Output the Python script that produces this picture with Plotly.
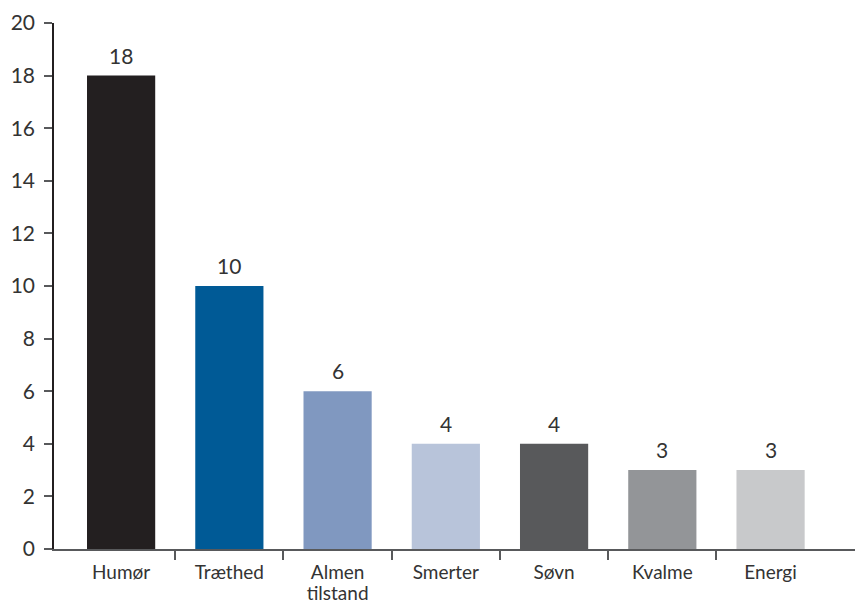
import plotly.graph_objects as go

categories = ["Humør", "Træthed", "Almen", "Smerter", "Søvn", "Kvalme", "Energi"]
second_line = ["", "", "tilstand", "", "", "", ""]
values = [18, 10, 6, 4, 4, 3, 3]
colors = ["#231f20", "#005a96", "#8098c0", "#b8c4da", "#58595b", "#939598", "#c8c9cb"]
y_ticks = list(range(0, 21, 2))

xpos = list(range(len(categories)))
xr = [-0.62, 6.78]
txt = "#333333"
fam = "Lato, Open Sans, sans-serif"
font = dict(family=fam, size=21, color=txt)

fig = go.Figure()
fig.add_trace(go.Bar(
    x=xpos, y=values, marker=dict(color=colors, line=dict(width=0)),
    width=0.63, hoverinfo="skip",
))
for x, v in zip(xpos, values):
    fig.add_annotation(x=x, y=v, text=str(v), showarrow=False, yanchor="bottom",
                       yshift=6, font=dict(family=fam, size=21, color=txt))
for ax in ("x2", "x3"):
    fig.add_trace(go.Scatter(x=xpos, y=[0]*len(xpos), xaxis=ax, mode="markers",
                             marker=dict(opacity=0), hoverinfo="skip", showlegend=False))

label_axis = dict(range=xr, overlaying="x", side="bottom", ticks="", showline=False,
                  showgrid=False, zeroline=False, automargin=False,
                  tickfont=dict(family=fam, size=19, color=txt))
sec_idx = [i for i, s in enumerate(second_line) if s]

fig.update_layout(
    width=855, height=605, margin=dict(l=54, r=0, t=23, b=56),
    plot_bgcolor="white", paper_bgcolor="white", showlegend=False,
    font=font,
    xaxis=dict(range=xr, tickvals=[i + 0.5 for i in range(len(categories) - 1)],
               ticktext=[""] * (len(categories) - 1), ticks="outside", ticklen=9,
               tickwidth=1.5, tickcolor="#58595b", showline=True, linecolor="#58595b",
               linewidth=1.5, showgrid=False, zeroline=False, automargin=False),
    xaxis2=dict(label_axis, tickvals=xpos, ticktext=categories, ticklabelstandoff=10),
    xaxis3=dict(label_axis, tickvals=[xpos[i] for i in sec_idx],
                ticktext=[second_line[i] for i in sec_idx], ticklabelstandoff=31),
    yaxis=dict(range=[0, 20], tickvals=y_ticks, ticks="outside", ticklen=8, tickwidth=1.5,
               tickcolor="#58595b", showline=True, linecolor="#231f20", linewidth=1.5,
               showgrid=False, zeroline=False, ticklabelstandoff=5, automargin=False,
               tickfont=dict(family=fam, size=21, color=txt)),
)
fig.write_html("out.html")
